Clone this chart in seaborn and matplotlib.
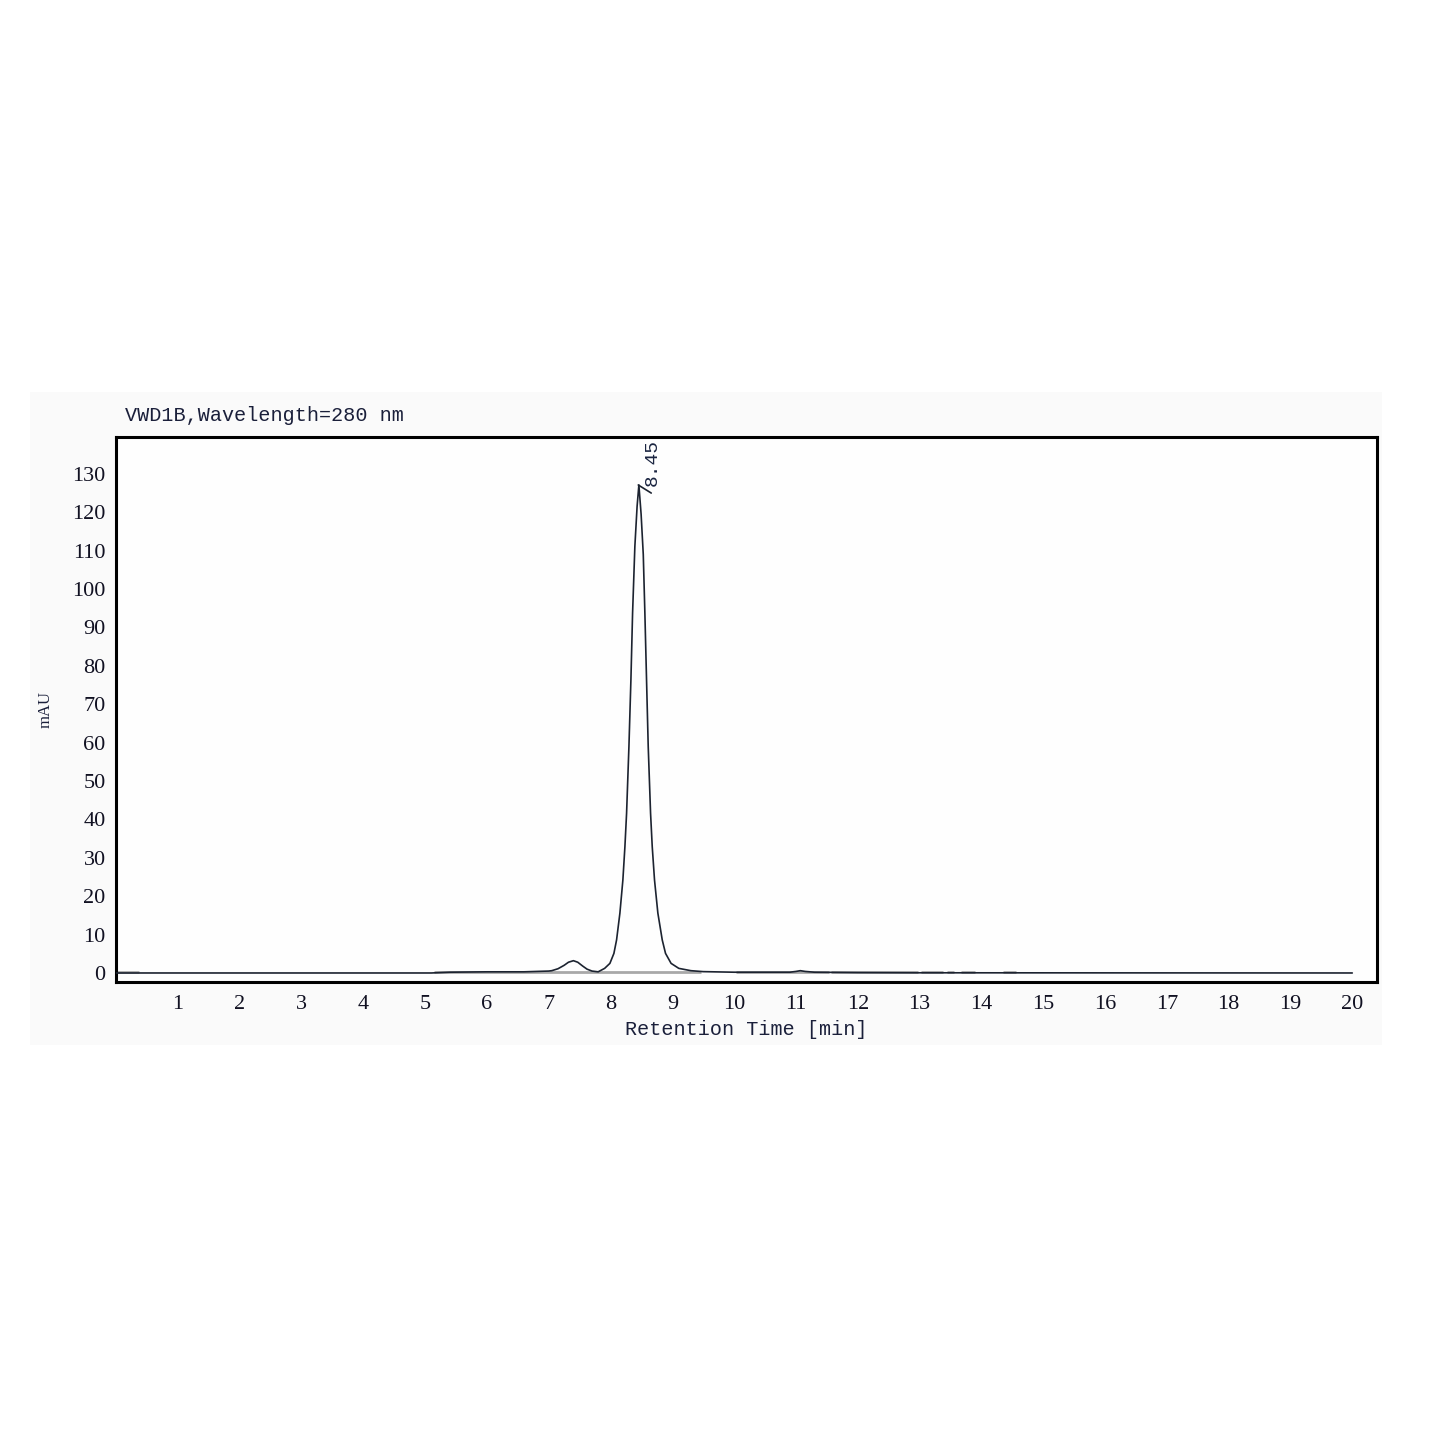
import pandas as pd
import matplotlib
matplotlib.use("Agg")
import matplotlib.pyplot as plt
import seaborn as sns
from matplotlib.patches import Rectangle

# chromatogram trace: retention time [min] vs signal [mAU]
time_min = [0.0, 5.1, 5.4, 6.0, 6.6, 7.0, 7.05, 7.15, 7.25, 7.32, 7.4, 7.47,
            7.55, 7.62, 7.7, 7.8, 7.905, 7.99, 8.055, 8.098, 8.152, 8.20, 8.233,
            8.26, 8.298, 8.33, 8.357, 8.394, 8.43, 8.459, 8.495, 8.53, 8.556,
            8.583, 8.61, 8.648, 8.675, 8.712, 8.766, 8.837, 8.89, 8.98, 9.105,
            9.3, 9.5, 10.0, 10.9, 11.0, 11.07, 11.15, 11.3, 12.0, 13.0, 20.0]
signal_mau = [0.0, 0.0, 0.2, 0.3, 0.3, 0.5, 0.6, 1.1, 2.0, 2.8, 3.2, 2.8,
              1.8, 1.0, 0.5, 0.3, 1.2, 2.5, 5.1, 8.6, 15.6, 24.2, 32.9,
              41.6, 59.0, 76.3, 93.7, 111.1, 121.5, 127.1, 119.5, 109.0, 93.7,
              76.3, 59.0, 41.6, 32.9, 24.2, 15.6, 8.6, 5.1, 2.5, 1.2,
              0.6, 0.35, 0.2, 0.2, 0.4, 0.6, 0.4, 0.2, 0.1, 0.05, 0.0]

# integration baseline pieces (start, end) in minutes
baseline_start = [0.0, 5.14, 10.03, 11.56, 13.02, 13.45, 13.67, 14.35]
baseline_end = [0.38, 9.46, 11.53, 12.97, 13.38, 13.55, 13.9, 14.56]

peak_label = "8.45"

df = pd.DataFrame({"t": time_min, "mAU": signal_mau})

sns.set_style("white")
plt.rcParams["font.family"] = ["Liberation Serif", "DejaVu Serif"]

fig = plt.figure(figsize=(14.45, 14.45), dpi=100)
fig.patch.set_facecolor("white")
# faint grey panel behind the whole chart
fig.patches.append(Rectangle((30 / 1445, 1 - 1045 / 1445), 1352 / 1445, 653 / 1445,
                             transform=fig.transFigure, facecolor="#fafafa",
                             edgecolor="none", zorder=-10))

ax = fig.add_axes([116 / 1445, 1 - 982 / 1445, 1261 / 1445, 545 / 1445])
ax.set_facecolor("#fefefe")

for s, e in zip(baseline_start, baseline_end):
    ax.plot([s, e], [0.3, 0.3], color="#a8a8a8", lw=2.0, solid_capstyle="butt", zorder=2)

sns.lineplot(data=df, x="t", y="mAU", ax=ax, color="#1c2330", lw=1.2,
             estimator=None, sort=False, zorder=3)

# peak label with little leader line
ip = signal_mau.index(max(signal_mau))
px, py = time_min[ip], signal_mau[ip]
ax.plot([px - 0.01, px + 0.2], [py, py - 2.1], color="#1c2330", lw=1.2, zorder=4)
ax.text(px + 0.21, py - 0.3, peak_label, rotation=90, ha="center", va="bottom",
        fontsize=14, family="Liberation Mono", color="#1a2440")

ax.set_xlim(0, 20.4)
ax.set_ylim(-2.35, 139.6)
ax.set_xticks(range(1, 21))
ax.set_yticks(range(0, 131, 10))
ax.set_xlabel("")
ax.set_ylabel("")
ax.tick_params(axis="both", which="major", direction="out", colors="#111122",
               width=2.0, labelsize=16)
ax.tick_params(axis="x", length=5.5, pad=4)
ax.tick_params(axis="y", length=6, pad=1.5)
for sp in ax.spines.values():
    sp.set_linewidth(2.2)
    sp.set_color("black")

fig.text(125 / 1445, 1 - 421 / 1445, "VWD1B,Wavelength=280 nm", ha="left",
         va="baseline", fontsize=14.5, family="Liberation Mono", color="#1a1f3a")
fig.text(746 / 1445, 1 - 1035 / 1445, "Retention Time [min]", ha="center",
         va="baseline", fontsize=14.5, family="Liberation Mono", color="#1a1f3a")
fig.text(46 / 1445, 1 - 710 / 1445, "mAU", rotation=90, ha="center", va="center",
         fontsize=12, color="#1a1f3a")

fig.savefig("out.png", dpi=100)
